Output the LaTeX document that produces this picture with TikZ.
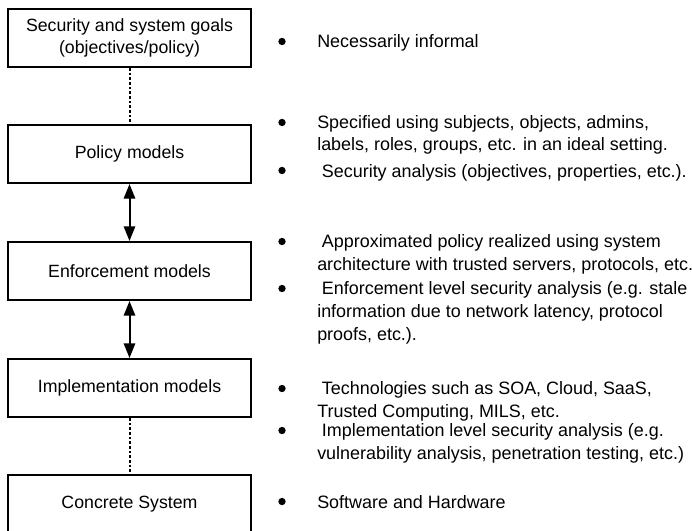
\documentclass[tikz,border=0pt]{standalone}
\usepackage{fontspec}
\setmainfont{Liberation Sans}
\usetikzlibrary{arrows.meta}
\tikzset{
  levelbox/.style={draw=black, line width=1.5pt, minimum width=182pt, minimum height=43.5pt,
    inner sep=0pt, align=center, font=\fontsize{13.3}{16.5}\selectfont},
  itemtext/.style={anchor=base west, inner sep=0pt, align=left,
    font=\fontsize{13.45}{16.9}\selectfont},
  bulletdot/.style={circle, fill=black, inner sep=0pt, minimum size=5.5pt},
  dotlink/.style={line width=1.5pt, dash pattern=on 2pt off 1.5pt},
  bothlink/.style={line width=1.5pt, {Triangle[length=11pt,width=8.5pt]}-{Triangle[length=11pt,width=8.5pt]}}
}
\newcommand{\lead}{\hspace*{3.5pt}}
\begin{document}
\begin{tikzpicture}[x=0.75pt,y=-0.75pt]
\useasboundingbox (0,0) rectangle (692,531);
\begin{scope}
\clip (0,0) rectangle (692,531);
\node[levelbox] (goals) at (129.5,38) {Security and system goals\\(objectives/policy)};
\node[levelbox] (policy) at (129.5,154) {Policy models};
\node[levelbox] (enf) at (129.5,271) {Enforcement models};
\node[levelbox] (impl) at (129.5,388) {Implementation models};
\node[levelbox] (conc) at (129.5,504) {Concrete System};
\end{scope}
\draw[dotlink] (goals.south) -- (policy.north);
\draw[bothlink] (policy.south) -- (enf.north);
\draw[bothlink] (enf.south) -- (impl.north);
\draw[dotlink] (impl.south) -- (conc.north);

% bullets (text nodes anchored at the baseline of their last line)
\node[bulletdot] (b1) at (282,41.5) {};
\node[itemtext] (t1) at (317,48) {Necessarily informal};
\node[bulletdot] (b2) at (282,122.5) {};
\node[itemtext] (t2) at (317,151) {Specified using subjects, objects, admins,\\labels, roles, groups, etc. in an ideal setting.};
\node[bulletdot] (b3) at (282,170.5) {};
\node[itemtext] (t3) at (317,177) {\lead Security analysis (objectives, properties, etc.).};
\node[bulletdot] (b4) at (282,241.5) {};
\node[itemtext] (t4) at (317,270.5) {\lead Approximated policy realized using system\\architecture with trusted servers, protocols, etc.};
\node[bulletdot] (b5) at (282,288.5) {};
\node[itemtext] (t5) at (317,340) {\lead Enforcement level security analysis (e.g. stale\\information due to network latency, protocol\\proofs, etc.).};
\node[bulletdot] (b6) at (282,388.5) {};
\node[itemtext] (t6) at (317,417.5) {\lead Technologies such as SOA, Cloud, SaaS,\\Trusted Computing, MILS, etc.};
\node[bulletdot] (b7) at (282,430.5) {};
\node[itemtext] (t7) at (317,459.5) {\lead Implementation level security analysis (e.g.\\vulnerability analysis, penetration testing, etc.)};
\node[bulletdot] (b8) at (282,501.5) {};
\node[itemtext] (t8) at (317,508) {Software and Hardware};
\end{tikzpicture}
\end{document}
